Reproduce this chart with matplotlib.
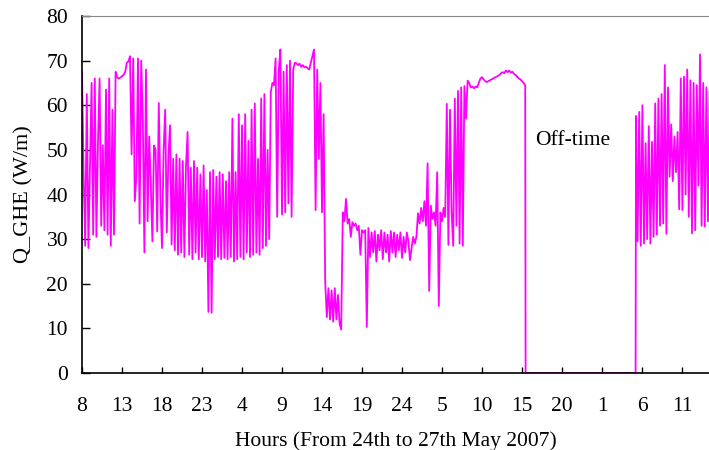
import numpy as np
import matplotlib
matplotlib.use("Agg")
import matplotlib.pyplot as plt

# heat flow per metre of ground heat exchanger, logged every 0.2 h
STEP = 0.2

# start hour (h after 8:00 on 24 May) and readings for each stretch of the log
seg1_start = 0.0
seg1 = [67.5, 45, 28.5, 62.5, 28, 47, 65, 31, 66, 30.5,
        52, 66, 33, 51, 32, 63.5, 31, 66, 28.5, 59,
        31, 67.5, 66.2, 66, 66.2, 66.5, 66.8, 67.5, 69.5, 69.8]

seg2_start = 6.0
seg2 = [71, 49, 70.5, 38.5, 44, 70.5, 33.5, 70, 57, 27,
        68, 34, 53, 42, 29.5, 51, 50, 31.7, 60.5, 39.5,
        28, 50, 59, 31.5, 48.6, 55.5, 28.8, 48, 27.5, 49]

seg3_start = 12.0
seg3 = [26.5, 48, 27, 47.5, 26, 46.5, 54, 26.5, 46, 25.5,
        47.5, 27, 46, 25.5, 44.5, 26, 46.5, 25, 41, 13.7,
        45, 13.5, 45.5, 25.5, 44, 26, 45, 25.5, 44.5, 25.8]

seg4_start = 18.0
seg4 = [43, 25.5, 45, 26, 57, 25, 45, 25.5, 58, 26,
        55.5, 25.5, 58, 27, 52, 26, 59, 26.5, 60.4, 27,
        48, 26.5, 61.5, 28, 62.5, 28.5, 50, 30, 63, 65,
        64.5, 70.5, 35, 68, 72.5]

seg5_start = 25.0
seg5 = [35.5, 67.5, 36, 69, 38, 70, 35, 68, 69.5, 69.4,
        69, 69.3, 68.6, 69, 68.5, 68.6, 68.3, 68, 69.5, 71,
        72.5, 36.5, 68, 48, 65, 36]

seg6_start = 30.2
seg6 = [58, 20.5, 12.5, 19, 12, 18.5, 11.5, 19, 12, 17.5,
        11, 9.8, 36, 34, 39, 33.5, 34.5, 30.5, 33.8, 33,
        33.5, 32, 33, 26.5, 32]

seg7_start = 35.2
seg7 = [31.5, 32, 10.3, 32.5, 26, 31.5, 27, 31.8, 25, 31,
        27.5, 32, 25.5, 31.5, 27, 31, 25, 31.8, 27, 31.5,
        26, 31, 27.5, 31.5, 25.8, 30.5, 27, 31.5, 29.5, 25.3,
        28, 30.5, 29, 30.5]

seg8_start = 42.0
seg8 = [35.8, 33.5, 37, 34, 38.5, 33, 47, 18.4, 37.5, 34.5,
        36, 33, 45, 15, 36, 34, 37, 35, 60.3, 28.7,
        59, 36, 28.5, 61.5, 33, 63.2, 29, 64, 28.5, 64.3,
        57]

seg9_start = 48.2
seg9 = [65.5, 65, 64, 64.2, 63.8, 64.2, 64, 65, 66, 66.3,
        65.8, 65.4, 65.2, 65.4, 65.6, 65.8, 66, 66.2, 66.4, 66.6,
        66.8, 67.2, 67.4, 67.2, 67.8, 67.4, 67.8, 67.3, 67.5, 67,
        66.8, 66.4, 66, 65.8, 65.4, 65, 64.5]

# system switched off
off_hours = [55.45, 69.2]
off_values = [0, 0]

seg10_start = 69.25
seg10 = [57.6, 29.5, 58.5, 28.5, 60, 29, 51.5, 30, 55.3, 29,
         51.8, 30.5, 60.4, 31, 61.5, 33, 62.5, 33.5, 69, 31.2,
         64, 44, 55.7, 43, 53, 45, 54, 36.7, 66, 36.5,
         66.4, 40, 68, 35, 65.6, 31.3, 65, 32, 64.5, 42,
         71.4, 33, 65, 32.8, 64, 34, 63]

tick_hours = list(range(0, 80, 5))
tick_labels = ["8", "13", "18", "23", "4", "9", "14", "19",
               "24", "5", "10", "15", "20", "1", "6", "11"]


def stretch(start, values):
    return start + STEP * np.arange(len(values)), np.array(values, dtype=float)


parts = [stretch(seg1_start, seg1), stretch(seg2_start, seg2),
         stretch(seg3_start, seg3), stretch(seg4_start, seg4),
         stretch(seg5_start, seg5), stretch(seg6_start, seg6),
         stretch(seg7_start, seg7), stretch(seg8_start, seg8),
         stretch(seg9_start, seg9),
         (np.array(off_hours), np.array(off_values, dtype=float)),
         stretch(seg10_start, seg10)]
hours = np.concatenate([p[0] for p in parts])
q_ghe = np.concatenate([p[1] for p in parts])

plt.rcParams["font.family"] = ["Liberation Serif", "DejaVu Serif"]

fig = plt.figure(figsize=(7.09, 4.5), dpi=100)
ax = fig.add_axes([82 / 709, 77 / 450, 628 / 709, 357 / 450])

ax.plot(hours, q_ghe, color="#ff00ff", lw=1.3)

ax.set_xlim(0, 78.5)
ax.set_ylim(0, 80)
ax.set_xticks(tick_hours)
ax.set_xticklabels(tick_labels)
ax.set_yticks(range(0, 81, 10))
ax.tick_params(axis="x", direction="in", length=4.5, width=1, pad=17,
               labelsize=15.5, top=False)
ax.tick_params(axis="y", direction="in", length=5.5, width=1, pad=10,
               labelsize=15.5, right=False)

ax.spines["right"].set_visible(False)
ax.spines["top"].set_color("#888888")
ax.spines["left"].set_linewidth(1.2)
ax.spines["bottom"].set_linewidth(1.2)

ax.set_xlabel("Hours (From 24th to 27th May 2007)", fontsize=15.5, labelpad=11)
ax.set_ylabel("Q_GHE (W/m)", fontsize=16, labelpad=9)

ax.text(61.3, 52.2, "Off-time", fontsize=15.5, ha="center", va="center")

fig.savefig("out.png", dpi=100)
